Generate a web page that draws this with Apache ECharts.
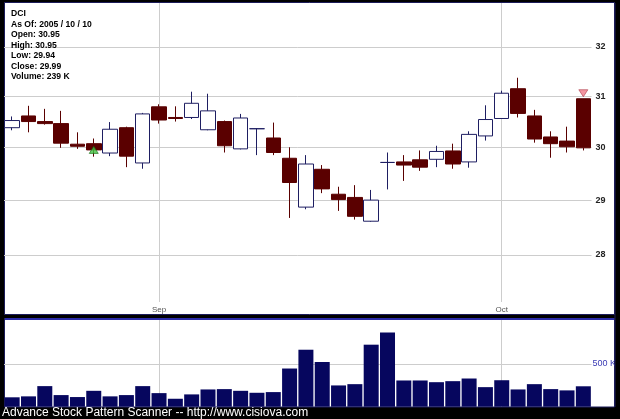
<!DOCTYPE html>
<html><head><meta charset="utf-8">
<script src="https://cdn.jsdelivr.net/npm/echarts@6/dist/echarts.min.js"></script>
<style>html,body{margin:0;padding:0;background:#000;}#c{width:620px;height:419px;}</style>
</head><body><div id="c"></div>
<script>
const dates = ['2005-08-19','2005-08-22','2005-08-23','2005-08-24','2005-08-25','2005-08-26','2005-08-29','2005-08-30','2005-08-31',
 '2005-09-01','2005-09-02','2005-09-06','2005-09-07','2005-09-08','2005-09-09','2005-09-12','2005-09-13','2005-09-14','2005-09-15','2005-09-16',
 '2005-09-19','2005-09-20','2005-09-21','2005-09-22','2005-09-23','2005-09-26','2005-09-27','2005-09-28','2005-09-29','2005-09-30',
 '2005-10-03','2005-10-04','2005-10-05','2005-10-06','2005-10-07','2005-10-10'];
const opens  = [30.38,30.61,30.50,30.46,30.06,30.07,29.89,30.38,29.70,30.79,30.58,30.58,30.34,30.50,29.97,30.36,30.18,29.79,28.87,29.58,29.11,29.05,28.61,29.71,29.72,29.76,29.77,29.93,29.72,30.22,30.56,31.15,30.61,30.20,30.12,30.95];
const closes = [30.52,30.50,30.46,30.08,30.02,29.95,30.35,29.83,30.65,30.53,30.56,30.86,30.71,30.03,30.57,30.36,29.90,29.33,29.68,29.21,29.01,28.70,29.00,29.71,29.66,29.62,29.92,29.68,30.25,30.54,31.06,30.66,30.16,30.07,30.01,29.99];
const lows   = [30.33,30.29,30.44,29.99,29.97,29.82,29.83,29.62,29.59,30.46,30.50,30.55,30.33,29.90,29.96,29.85,29.85,28.67,28.83,29.13,28.80,28.64,28.60,29.20,29.36,29.55,29.62,29.59,29.61,30.13,30.56,30.58,30.09,29.80,29.90,29.94];
const highs  = [30.60,30.81,30.75,30.71,30.29,30.17,30.49,30.40,30.67,30.84,30.80,31.09,31.05,30.52,30.65,30.37,30.48,30.00,29.85,29.66,29.25,29.28,29.19,29.90,29.85,29.94,30.03,30.07,30.31,30.82,31.11,31.37,30.73,30.31,30.40,30.95];
const volumes = [110,121,241,136,113,186,121,136,241,159,93,144,202,206,186,163,171,447,667,523,249,264,726,869,307,307,287,299,330,229,310,202,264,206,191,239];
const priceTicks = [28,29,30,31,32];
const volumeTicks = [500];
const monthNames = ['Jan','Feb','Mar','Apr','May','Jun','Jul','Aug','Sep','Oct','Nov','Dec'];
const headerLines = ['DCI','As Of: 2005 / 10 / 10','Open: 30.95','High: 30.95','Low: 29.94','Close: 29.99','Volume: 239 K'];
const footerText = 'Advance Stock Pattern Scanner -- http://www.cisiova.com';
const buySignals = [['2005-08-26', 29.95]];
const sellSignals = [['2005-10-10', 31.06]];

const isMonthStart = dates.map((d, i) => i > 0 && d.slice(5, 7) !== dates[i - 1].slice(5, 7));
const monthStartDates = dates.filter((d, i) => isMonthStart[i]);
const monthLabel = d => monthNames[parseInt(d.slice(5, 7), 10) - 1];

const FONT = '"Liberation Sans", Arial, sans-serif';
const GRID_COLOR = '#cdcdcd';

const graphics = [
  {type:'rect', z:-10, silent:true, shape:{x:4.5,y:2.5,width:610,height:312}, style:{fill:'#fff', stroke:'#1c1c5a', lineWidth:1}},
  {type:'rect', z:-10, silent:true, shape:{x:4.5,y:318.5,width:610,height:88.5}, style:{fill:'#fff', stroke:'#1c1c5a', lineWidth:1}},
  {type:'line', z:-9, silent:true, shape:{x1:5,y1:319,x2:614,y2:319}, style:{stroke:'#2c2ca8', lineWidth:2}},
  {type:'rect', z:200, silent:true, shape:{x:615,y:0,width:5,height:419}, style:{fill:'#000'}},
  {type:'line', z:201, silent:true, shape:{x1:615,y1:3,x2:615,y2:407}, style:{stroke:'#1c1c5a', lineWidth:1}}
];
headerLines.forEach((t, i) => {
  graphics.push({type:'text', z:100, x:11, y:14 + i * 10.45,
    style:{text:t, fill:'#000', font:'bold 8.6px ' + FONT, textAlign:'left', textVerticalAlign:'middle'}});
});
graphics.push({type:'text', z:100, x:2, y:412.5,
  style:{text:footerText, fill:'#fff', font:'12px ' + FONT, textAlign:'left', textVerticalAlign:'middle'}});

const vLines = monthStartDates.map(d => ({xAxis: d}));
const gridLineStyle = {color: GRID_COLOR, width: 1, type: 'solid'};

const chart = echarts.init(document.getElementById('c'), null, {renderer:'canvas', width:620, height:419});
chart.setOption({
  animation: false,
  backgroundColor: '#000',
  graphic: graphics,
  grid: [
    {left:4, right:28.5, top:3, height:299},
    {left:4, right:28.5, top:320, bottom:12.3}
  ],
  xAxis: [
    {type:'category', gridIndex:0, data:dates, boundaryGap:true,
     axisLine:{show:false}, axisTick:{show:false}, splitLine:{show:false},
     axisLabel:{interval:(i) => isMonthStart[i], formatter:monthLabel, color:'#555', fontSize:8, fontFamily:FONT, margin:4}},
    {type:'category', gridIndex:1, data:dates, boundaryGap:true,
     axisLine:{show:false}, axisTick:{show:false}, splitLine:{show:false}, axisLabel:{show:false}}
  ],
  yAxis: [
    {type:'log', logBase:10, gridIndex:0, min:27.164, max:32.912, position:'right',
     axisLine:{show:false}, axisTick:{show:false, customValues:priceTicks}, splitLine:{show:false},
     axisLabel:{customValues:priceTicks, color:'#222', fontWeight:'bold', fontSize:9, fontFamily:FONT, margin:4}},
    {type:'value', gridIndex:1, min:0, max:1015, position:'right',
     axisLine:{show:false}, axisTick:{show:false, customValues:volumeTicks}, splitLine:{show:false},
     axisLabel:{customValues:volumeTicks, formatter:'{value} K', color:'#3a3ab4', fontSize:9, fontFamily:FONT, margin:1}}
  ],
  series: [
    {type:'line', xAxisIndex:0, yAxisIndex:0, data:[], z:1, silent:true,
     markLine:{z:1, silent:true, symbol:'none', animation:false, label:{show:false}, lineStyle:gridLineStyle,
       data: priceTicks.map(v => ({yAxis:v})).concat(vLines)}},
    {type:'line', xAxisIndex:1, yAxisIndex:1, data:[], z:1, silent:true,
     markLine:{z:1, silent:true, symbol:'none', animation:false, label:{show:false}, lineStyle:gridLineStyle,
       data: volumeTicks.map(v => ({yAxis:v})).concat(vLines)}},
    {type:'candlestick', xAxisIndex:0, yAxisIndex:0, z:3, barWidth:15,
     data: dates.map((d, i) => [opens[i], closes[i], lows[i], highs[i]]),
     itemStyle:{color:'#fff', color0:'#5a0000', borderColor:'#1e1e62', borderColor0:'#5a0000', borderColorDoji:'#1e1e62', borderWidth:1}},
    {type:'scatter', xAxisIndex:0, yAxisIndex:0, z:5, symbol:'triangle', symbolSize:[9,7], data:buySignals,
     itemStyle:{color:'#44c444', borderColor:'#137013', borderWidth:0.8}},
    {type:'scatter', xAxisIndex:0, yAxisIndex:0, z:5, symbol:'triangle', symbolRotate:180, symbolSize:[9,7], data:sellSignals,
     itemStyle:{color:'#f07a88', borderColor:'#b04050', borderWidth:0.8}},
    {type:'bar', xAxisIndex:1, yAxisIndex:1, z:3, barWidth:15, data:volumes,
     itemStyle:{color:'#06065e'}}
  ]
});
</script>
</body></html>
